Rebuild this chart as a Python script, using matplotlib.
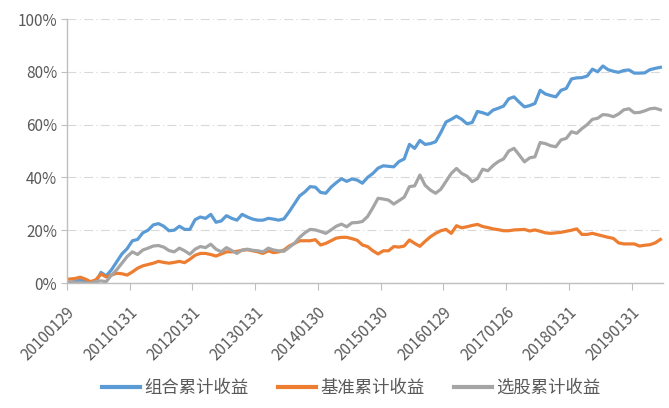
import numpy as np
import matplotlib
matplotlib.use("Agg")
import matplotlib.pyplot as plt
from matplotlib.ticker import FuncFormatter
from matplotlib.lines import Line2D
from matplotlib.transforms import ScaledTranslation

plt.rcParams['font.family'] = ['Noto Sans CJK SC', 'DejaVu Sans']

# monthly cumulative returns (%), Jan 2010 - Jun 2019
portfolio = [0.3, 0.5, 1.2, 0.5, 0.0, 0.3, 4.0, 2.7, 5.0, 8.0,
             11.0, 13.0, 16.0, 16.5, 19.0, 20.0, 22.0, 22.5, 21.5, 19.8,
             20.0, 21.5, 20.3, 20.3, 24.0, 25.0, 24.5, 26.0, 23.0, 23.5,
             25.5, 24.5, 23.8, 26.0, 25.0, 24.2, 23.8, 23.8, 24.5, 24.2,
             23.8, 24.3, 27.0, 30.0, 33.0, 34.5, 36.5, 36.3, 34.3, 34.0,
             36.3, 38.0, 39.5, 38.5, 39.4, 39.0, 37.8, 40.0, 41.5, 43.5,
             44.4, 44.2, 44.0, 46.0, 47.0, 52.5, 51.0, 54.0, 52.5, 52.8,
             53.5, 57.0, 61.0, 62.0, 63.2, 62.0, 60.3, 60.8, 65.0, 64.5,
             63.8, 65.5, 66.2, 67.0, 69.8, 70.5, 68.5, 66.7, 67.2, 68.0,
             73.0, 71.6, 71.0, 70.5, 73.0, 73.7, 77.3, 77.7, 77.8, 78.4,
             81.0, 80.0, 82.2, 80.8, 80.2, 79.8, 80.5, 80.7, 79.5, 79.5,
             79.6, 80.8, 81.3, 81.7]

benchmark = [1.5, 1.7, 2.2, 1.5, 0.5, 1.2, 3.4, 2.3, 3.0, 3.7,
             3.5, 3.0, 4.2, 5.6, 6.5, 7.0, 7.5, 8.2, 7.8, 7.5,
             7.8, 8.2, 7.7, 9.0, 10.5, 11.2, 11.2, 10.8, 10.2, 11.0,
             11.8, 11.8, 12.0, 12.4, 12.6, 12.2, 11.8, 11.2, 12.2, 11.5,
             11.8, 12.5, 14.0, 15.0, 16.0, 16.0, 16.0, 16.4, 14.4, 15.0,
             16.0, 17.0, 17.3, 17.3, 16.8, 16.2, 14.4, 13.8, 12.2, 11.0,
             12.2, 12.2, 13.8, 13.6, 14.0, 16.3, 15.0, 13.9, 15.8, 17.5,
             18.8, 19.8, 20.3, 18.8, 21.7, 20.9, 21.3, 21.8, 22.2, 21.4,
             21.0, 20.5, 20.2, 19.8, 19.8, 20.1, 20.2, 20.3, 19.7, 20.1,
             19.6, 19.0, 18.8, 19.0, 19.2, 19.6, 20.0, 20.5, 18.4, 18.4,
             18.8, 18.3, 17.8, 17.3, 16.9, 15.2, 14.8, 14.8, 14.8, 14.0,
             14.3, 14.5, 15.2, 16.5]

selection = [0.2, 0.3, 0.2, 0.0, 0.0, 0.5, 0.8, 0.5, 3.0, 5.0,
             7.5, 10.0, 11.8, 10.8, 12.5, 13.2, 14.0, 14.2, 13.6, 12.3,
             11.8, 13.2, 12.2, 10.9, 12.8, 13.8, 13.4, 14.7, 12.8, 11.8,
             13.4, 12.3, 11.2, 12.5, 12.8, 12.4, 12.2, 11.8, 13.2, 12.5,
             12.2, 12.0, 13.5, 15.0, 17.3, 19.0, 20.3, 20.1, 19.5, 18.8,
             20.1, 21.5, 22.3, 21.3, 22.8, 22.9, 23.3, 25.2, 28.5, 32.1,
             31.8, 31.4, 29.9, 31.2, 32.5, 36.5, 36.8, 40.9, 37.0, 35.2,
             34.0, 35.5, 38.5, 41.5, 43.4, 41.5, 40.5, 38.4, 39.5, 43.1,
             42.5, 44.5, 46.0, 47.0, 50.0, 51.0, 48.5, 45.9, 47.4, 47.8,
             53.2, 52.8, 52.0, 51.6, 54.2, 54.8, 57.3, 56.7, 58.5, 60.0,
             62.0, 62.4, 63.8, 63.6, 63.0, 64.0, 65.6, 66.0, 64.5, 64.6,
             65.2, 66.0, 66.2, 65.6]

tick_labels = ['20100129', '20110131', '20120131', '20130131', '20140130',
               '20150130', '20160129', '20170126', '20180131', '20190131']
series_names = ['组合累计收益', '基准累计收益', '选股累计收益']
colors = ['#5B9BD5', '#ED7D31', '#A5A5A5']

n = len(portfolio)
x = np.arange(n)

fig = plt.figure(figsize=(6.69, 4.08), dpi=100)
ax = fig.add_axes([67/669, 1-283/408, 596/669, 264/408])

for data, c in zip([portfolio, benchmark, selection], colors):
    ax.plot(x, data, color=c, lw=2.3, solid_joinstyle='round')

ax.set_xlim(-0.5, n - 0.5)
ax.set_ylim(0, 100)
ax.set_yticks(np.arange(0, 101, 20))
ax.yaxis.set_major_formatter(FuncFormatter(lambda v, p: f'{v:.0f}%'))
ax.yaxis.grid(True, color='#D9D9D9', lw=0.8, linestyle=(0, (8, 3, 1, 3)))
ax.set_axisbelow(True)

# tick marks between categories, labels on categories
ax.set_xticks(np.arange(-0.5, n, 12))
ax.set_xticklabels([])
ax.set_xticks(np.arange(0, n, 12), minor=True)
ax.set_xticklabels(tick_labels, minor=True, rotation=45, ha='right', va='top',
                   rotation_mode='anchor', fontsize=11, color='#595959')
ax.tick_params(axis='x', which='major', length=5, color='#BFBFBF', direction='out')
ax.tick_params(axis='x', which='minor', length=0, pad=15)
ax.tick_params(axis='y', length=4, color='#BFBFBF', labelsize=11, labelcolor='#595959', pad=3)

shift = ScaledTranslation(-3/100, 0, fig.dpi_scale_trans)
for lab in ax.get_xticklabels(minor=True):
    lab.set_transform(lab.get_transform() + shift)

for s in ['top', 'right']:
    ax.spines[s].set_visible(False)
for s in ['left', 'bottom']:
    ax.spines[s].set_color('#BFBFBF')
    ax.spines[s].set_linewidth(1.0)

handles = [Line2D([], [], color=c, lw=3) for c in colors]
fig.legend(handles, series_names, loc='center', bbox_to_anchor=(0.525, 1-388/408),
           ncol=3, frameon=False, fontsize=12.5, labelcolor='#595959',
           handlelength=2.2, handletextpad=0.25, columnspacing=1.7)

fig.savefig('out.png', dpi=100)
